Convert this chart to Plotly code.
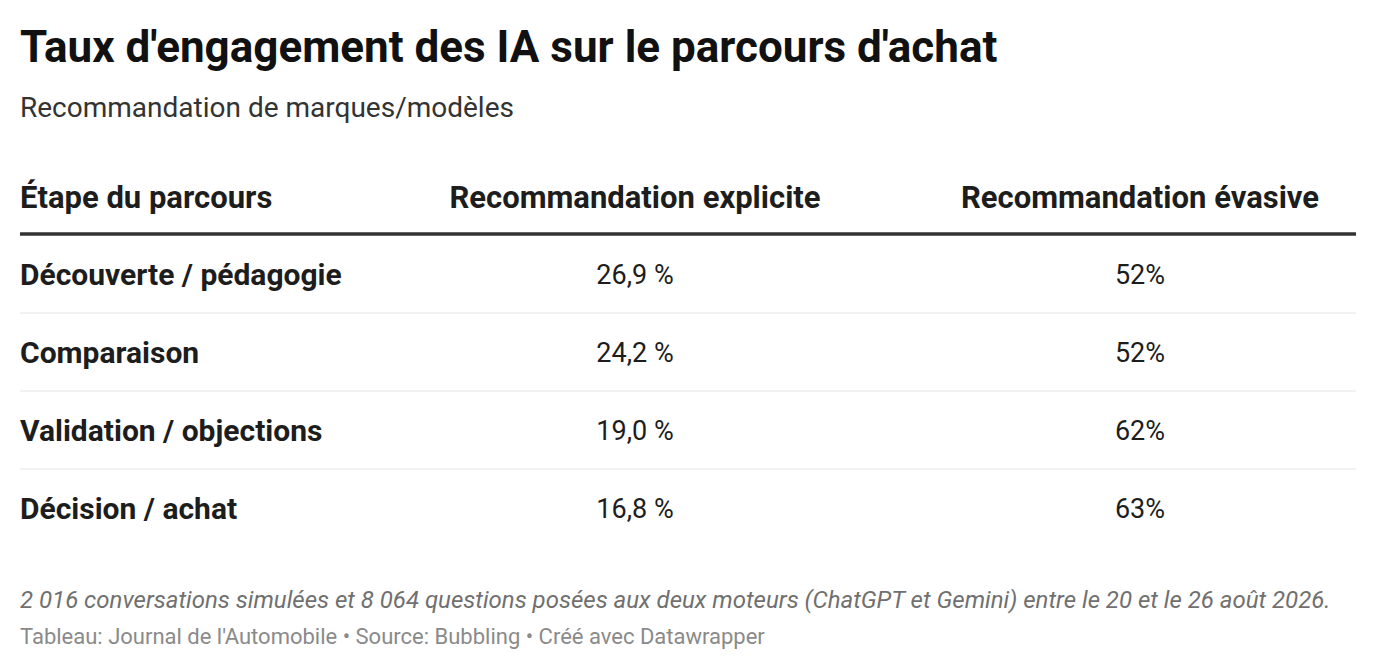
import plotly.graph_objects as go

W, H = 1376, 670

title = "Taux d'engagement des IA sur le parcours d'achat"
subtitle = "Recommandation de marques/modèles"
headers = ["Étape du parcours", "Recommandation explicite", "Recommandation évasive"]
stages = ["Découverte / pédagogie", "Comparaison", "Validation / objections", "Décision / achat"]
explicit = ["26,9 %", "24,2 %", "19,0 %", "16,8 %"]
evasive = ["52%", "52%", "62%", "63%"]
note = "2 016 conversations simulées et 8 064 questions posées aux deux moteurs (ChatGPT et Gemini) entre le 20 et le 26 août 2026."
source = "Tableau: Journal de l'Automobile • Source: Bubbling • Créé avec Datawrapper"

FONT = "Roboto"
row_y = [277, 355, 433, 511]
header_y = 200
col_x = [20, 635, 1140]
OFF = 8  # page offset of the plot

fig = go.Figure()

# header row
fig.add_trace(go.Scatter(
    x=[col_x[0]], y=[header_y], mode="text", text=["<b>" + headers[0] + "</b>"],
    textposition="middle right",
    textfont=dict(family=FONT, size=31, color="#1d1d1d"), hoverinfo="skip"))
fig.add_trace(go.Scatter(
    x=col_x[1:], y=[header_y, header_y], mode="text", text=["<b>" + h + "</b>" for h in headers[1:]],
    textposition="middle center",
    textfont=dict(family=FONT, size=31, color="#1d1d1d"), hoverinfo="skip"))

# body
fig.add_trace(go.Scatter(
    x=[col_x[0]] * len(stages), y=row_y, mode="text", text=["<b>" + s + "</b>" for s in stages],
    textposition="middle right",
    textfont=dict(family=FONT, size=30, color="#1d1d1d"), hoverinfo="skip"))
fig.add_trace(go.Scatter(
    x=[col_x[1]] * len(explicit), y=row_y, mode="text", text=explicit,
    textposition="middle center",
    textfont=dict(family=FONT, size=27, color="#1d1d1d"), hoverinfo="skip"))
fig.add_trace(go.Scatter(
    x=[col_x[2]] * len(evasive), y=row_y, mode="text", text=evasive,
    textposition="middle center",
    textfont=dict(family=FONT, size=27, color="#1d1d1d"), hoverinfo="skip"))

# lines
fig.add_shape(type="line", x0=20, x1=1356, y0=234, y1=234, xref="x", yref="y",
              line=dict(color="#333333", width=3.5))
for yy in [313, 391, 469]:
    fig.add_shape(type="line", x0=20, x1=1356, y0=yy, y1=yy, xref="x", yref="y",
                  line=dict(color="#e4e4e4", width=1))

# title/subtitle/footer
fig.add_annotation(x=18, y=47, xref="x", yref="y", text="<b>" + title + "</b>", showarrow=False,
                   xanchor="left", yanchor="middle", font=dict(family=FONT, size=44, color="#111111"))
fig.add_annotation(x=18, y=107, xref="x", yref="y", text=subtitle, showarrow=False,
                   xanchor="left", yanchor="middle", font=dict(family=FONT, size=28, color="#333333"))
fig.add_annotation(x=18, y=600, xref="x", yref="y", text="<i>" + note + "</i>", showarrow=False,
                   xanchor="left", yanchor="middle", font=dict(family=FONT, size=24, color="#707070"))
fig.add_annotation(x=18, y=636, xref="x", yref="y", text=source, showarrow=False,
                   xanchor="left", yanchor="middle", font=dict(family=FONT, size=22, color="#8a8a8a"))

fig.update_layout(
    width=W, height=H, margin=dict(l=0, r=0, t=0, b=0),
    paper_bgcolor="white", plot_bgcolor="white", showlegend=False,
    xaxis=dict(range=[OFF, W + OFF], visible=False, fixedrange=True),
    yaxis=dict(range=[H + OFF, OFF], visible=False, fixedrange=True),
)

fig.write_html("out.html", config={"displayModeBar": False})
